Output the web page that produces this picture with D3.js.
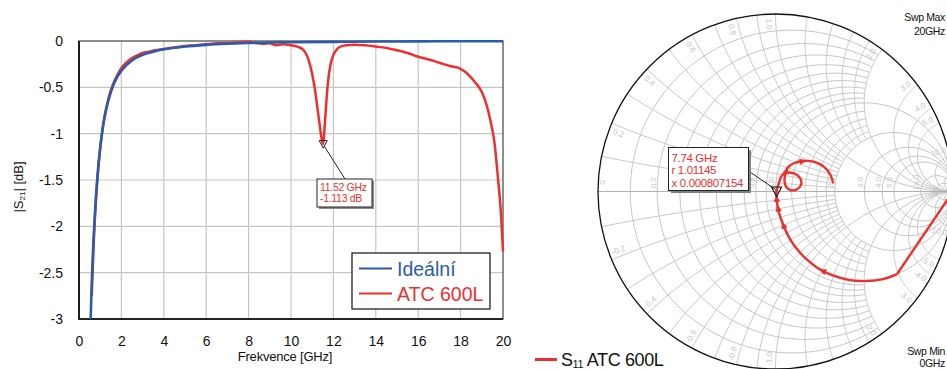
<!DOCTYPE html>
<html>
<head>
<meta charset="utf-8">
<script src="https://cdn.jsdelivr.net/npm/d3@7"></script>
<style>
  body { margin: 0; background: #fff; }
  svg { display: block; font-family: "Liberation Sans", Arial, sans-serif; }
</style>
</head>
<body>
<svg id="chart" width="947" height="369"></svg>
<script>
// ---------- data: |S21| plot ----------
const xTicks = [0, 2, 4, 6, 8, 10, 12, 14, 16, 18, 20];
const yTicks = [0, -0.5, -1, -1.5, -2, -2.5, -3];

const freqIdeal = [0.55, 0.6, 0.7, 0.8, 0.9, 1.0, 1.1, 1.2, 1.4, 1.6, 1.8, 2.0, 2.5, 3.0, 3.5, 4.0, 5.0, 6.0, 7.0, 8.0, 9.0, 10, 12, 14, 16, 18, 20];
const s21Ideal = [-3.0, -2.62, -2.08, -1.68, -1.38, -1.15, -0.97, -0.83, -0.63, -0.49, -0.39, -0.32, -0.21, -0.15, -0.115, -0.09, -0.06, -0.042, -0.03, -0.022, -0.017, -0.013, -0.009, -0.006, -0.004, -0.003, -0.002];

const freqAtc = [0.6, 0.7, 0.8, 0.9, 1.0, 1.1, 1.2, 1.4, 1.6, 1.8, 2.0, 2.2, 2.5, 2.8, 3.0, 3.3, 3.6, 4.0, 4.5, 5.0, 5.5, 6.0, 6.5, 7.0, 7.5, 8.0, 8.3, 8.7, 9.0, 9.3, 9.6, 10.0, 10.3, 10.6, 10.9, 11.1, 11.2, 11.35, 11.45, 11.52, 11.6, 11.7, 11.8, 11.9, 12.0, 12.2, 12.4, 12.6, 13.0, 13.5, 14.0, 14.5, 15.0, 15.5, 16.0, 16.5, 17.0, 17.5, 18.0, 18.4, 18.7, 19.0, 19.2, 19.4, 19.6, 19.75, 19.9, 20.0];
const s21Atc = [-2.75, -2.15, -1.72, -1.4, -1.16, -0.97, -0.82, -0.61, -0.47, -0.37, -0.29, -0.24, -0.185, -0.15, -0.13, -0.115, -0.1, -0.085, -0.07, -0.055, -0.045, -0.035, -0.025, -0.022, -0.015, -0.005, -0.02, -0.03, -0.025, -0.045, -0.035, -0.045, -0.06, -0.1, -0.26, -0.48, -0.64, -0.9, -1.06, -1.113, -0.88, -0.56, -0.34, -0.22, -0.15, -0.08, -0.055, -0.045, -0.04, -0.047, -0.06, -0.075, -0.1, -0.13, -0.17, -0.2, -0.235, -0.27, -0.3, -0.37, -0.45, -0.55, -0.67, -0.85, -1.1, -1.45, -1.85, -2.27];

const markerFreq = 11.52;
const markerDb = -1.113;
const markerLines = ['11.52 GHz', '-1.113 dB'];
const legendNames = ['Ideální', 'ATC 600L'];

// ---------- data: Smith chart (S11, reflection coefficient) ----------
const gammaRe = [1.0, 0.685, 0.6, 0.5, 0.41, 0.33, 0.26, 0.19, 0.13, 0.08, 0.045, 0.02, 0.008, 0.006, 0.019, 0.031, 0.051, 0.079, 0.113, 0.141, 0.144, 0.118, 0.085, 0.059, 0.051, 0.054, 0.066, 0.103, 0.159, 0.216, 0.272, 0.31, 0.325];
const gammaIm = [0.0, -0.465, -0.495, -0.505, -0.498, -0.476, -0.445, -0.395, -0.335, -0.265, -0.19, -0.12, -0.06, 0.0, 0.046, 0.082, 0.104, 0.107, 0.099, 0.07, 0.037, 0.011, 0.008, 0.028, 0.059, 0.093, 0.131, 0.159, 0.172, 0.168, 0.14, 0.093, 0.046];
const arrowAt = [5.9, 10.0, 11.4, 12.3, 25.6, 27.9];
const smithMarkerIdx = 13;
const smithMarkerLines = ['7.74 GHz', 'r 1.01145', 'x 0.000807154'];

const rFine = [0.1, 0.2, 0.3, 0.4, 0.5, 0.6, 0.7, 0.8, 0.9, 1.2, 1.4, 1.6, 1.8];
const rMajor = [1, 2, 3, 4, 5, 10, 20];
const xFine = [0.1, 0.2, 0.3, 0.4, 0.5, 0.6, 0.7, 0.8, 0.9, 1.2, 1.4, 1.6, 1.8];
const xMajor = [1, 2, 3, 4, 5, 10, 20];
const rLabels = [0, 0.2, 0.4, 0.6, 0.8, 1.0, 2.0, 3.0, 4.0, 5.0, 10.0];
const xLabels = [0.2, 0.4, 0.6, 0.8, 1.0, 2.0, 3.0, 4.0, 5.0, 10.0];

const RED = '#ef2f2f';
const BLUE = '#2b5cab';
const GRID = '#c6c6c6';

const svg = d3.select('#chart');

// ================= left: |S21| =================
const plot = { left: 79, right: 503, top: 41, bottom: 319 };
const x = d3.scaleLinear().domain([0, 20]).range([plot.left, plot.right]);
const y = d3.scaleLinear().domain([-3, 0]).range([plot.bottom, plot.top]);

// grid
svg.append('g').selectAll('line').data(xTicks.slice(1, -1)).join('line')
    .attr('x1', d => x(d)).attr('x2', d => x(d))
    .attr('y1', plot.top).attr('y2', plot.bottom)
    .attr('stroke', GRID).attr('stroke-width', 1.2);
svg.append('g').selectAll('line').data(yTicks.slice(1, -1)).join('line')
    .attr('x1', plot.left).attr('x2', plot.right)
    .attr('y1', d => y(d)).attr('y2', d => y(d))
    .attr('stroke', GRID).attr('stroke-width', 1.2);

// axes (labels only)
const xAxis = svg.append('g')
    .attr('transform', `translate(0,${plot.bottom})`)
    .call(d3.axisBottom(x).tickValues(xTicks).tickSize(0).tickPadding(17).tickFormat(d => String(d)));
xAxis.select('.domain').remove();
xAxis.attr('font-family', null).attr('font-size', null);
xAxis.selectAll('text').attr('font-size', 14).attr('fill', '#111');

const yAxis = svg.append('g')
    .attr('transform', `translate(${plot.left},0)`)
    .call(d3.axisLeft(y).tickValues(yTicks).tickSize(0).tickPadding(16).tickFormat(d => String(d)));
yAxis.select('.domain').remove();
yAxis.attr('font-family', null).attr('font-size', null);
yAxis.selectAll('text').attr('font-size', 14).attr('fill', '#111');

// frame
svg.append('rect')
    .attr('x', plot.left).attr('y', plot.top)
    .attr('width', plot.right - plot.left).attr('height', plot.bottom - plot.top)
    .attr('fill', 'none').attr('stroke', '#444').attr('stroke-width', 1.2);
svg.append('path')
    .attr('d', `M${plot.left},${plot.top}V${plot.bottom}H${plot.right}`)
    .attr('fill', 'none').attr('stroke', '#000').attr('stroke-width', 1.6);

// curves
svg.append('defs').append('clipPath').attr('id', 'plotClip')
    .append('rect').attr('x', plot.left).attr('y', plot.top - 3)
    .attr('width', plot.right - plot.left + 2).attr('height', plot.bottom - plot.top + 3);

const line = d3.line().x(d => x(d[0])).y(d => y(d[1])).curve(d3.curveMonotoneX);
const curves = svg.append('g').attr('clip-path', 'url(#plotClip)');
curves.append('path')
    .attr('d', line(freqAtc.map((f, i) => [f, s21Atc[i]])))
    .attr('fill', 'none').attr('stroke', RED).attr('stroke-width', 2.5);
curves.append('path')
    .attr('d', line(freqIdeal.map((f, i) => [f, s21Ideal[i]])))
    .attr('fill', 'none').attr('stroke', BLUE).attr('stroke-width', 2.6);

// marker + annotation
const mx = x(markerFreq), my = y(markerDb);
const box1 = { x: 317, y: 179, w: 55, h: 28 };
svg.append('line')
    .attr('x1', mx + 1).attr('y1', my + 2)
    .attr('x2', box1.x + 28).attr('y2', box1.y)
    .attr('stroke', '#222').attr('stroke-width', 1);
svg.append('path')
    .attr('d', `M${mx - 4},${my - 3.5}L${mx + 4},${my - 3.5}L${mx},${my + 4}Z`)
    .attr('fill', 'none').attr('stroke', '#222').attr('stroke-width', 1);
svg.append('rect')
    .attr('x', box1.x + 2).attr('y', box1.y + 2).attr('width', box1.w).attr('height', box1.h)
    .attr('fill', '#8a8a8a');
svg.append('rect')
    .attr('x', box1.x).attr('y', box1.y).attr('width', box1.w).attr('height', box1.h)
    .attr('fill', '#fff').attr('stroke', '#222').attr('stroke-width', 1);
svg.append('g').selectAll('text').data(markerLines).join('text')
    .attr('x', box1.x + 3).attr('y', (d, i) => box1.y + 12 + i * 11)
    .attr('font-size', 10.5).attr('letter-spacing', -0.3).attr('fill', RED)
    .text(d => d);

// legend
const lg = svg.append('g');
lg.append('rect').attr('x', 352).attr('y', 253).attr('width', 138).attr('height', 56)
    .attr('fill', '#fff').attr('stroke', '#222').attr('stroke-width', 1.3);
[BLUE, RED].forEach((c, i) => {
    const ly = 268.5 + i * 25;
    lg.append('line').attr('x1', 359).attr('x2', 392).attr('y1', ly).attr('y2', ly)
        .attr('stroke', c).attr('stroke-width', 2.2);
    lg.append('text').attr('x', 397).attr('y', ly + 7)
        .attr('font-size', 19.5).attr('fill', c).text(legendNames[i]);
});

// axis titles
svg.append('text')
    .attr('x', 285).attr('y', 361).attr('text-anchor', 'middle')
    .attr('font-size', 13).attr('letter-spacing', -0.2).attr('fill', '#111')
    .text('Frekvence [GHz]');
const yt = svg.append('text')
    .attr('transform', 'translate(23,187) rotate(-90)')
    .attr('text-anchor', 'middle').attr('font-size', 13).attr('fill', '#111');
yt.append('tspan').text('|S');
yt.append('tspan').attr('font-size', 8).attr('dy', 2).text('21');
yt.append('tspan').attr('dy', -2).text('| [dB]');

// ================= right: Smith chart =================
const cx = 775.5, cy = 191.5, R = 177.5;
const gx = d3.scaleLinear().domain([-1, 1]).range([cx - R, cx + R]);
const gy = d3.scaleLinear().domain([-1, 1]).range([cy + R, cy - R]);

function z2g(r, xx) {
    const a = r - 1, c = r + 1, den = c * c + xx * xx;
    return [(a * c + xx * xx) / den, (xx * c - a * xx) / den];
}
const gline = d3.line().x(d => gx(d[0])).y(d => gy(d[1]));

svg.select('defs').append('clipPath').attr('id', 'smithClip')
    .append('circle').attr('cx', cx).attr('cy', cy).attr('r', R);

const grid = svg.append('g').attr('clip-path', 'url(#smithClip)')
    .attr('fill', 'none').attr('stroke', GRID).attr('stroke-width', 1);

// constant-resistance circles, partial
rFine.forEach(r => {
    const tm = Math.atan(2);
    const pts = d3.range(0, 121).map(k => {
        const t = -tm + 2 * tm * k / 120;
        return z2g(r, Math.tan(t));
    });
    grid.append('path').attr('d', gline(pts));
});
// constant-resistance circles, full
rMajor.forEach(r => {
    grid.append('circle')
        .attr('cx', gx(r / (r + 1))).attr('cy', cy)
        .attr('r', gx(1 / (r + 1)) - gx(0));
});
// constant-reactance arcs
function xArc(xx, rmax) {
    const tm = Math.min(Math.atan(rmax), Math.PI / 2 - 1e-4);
    const pts = d3.range(0, 121).map(k => z2g(Math.tan(tm * k / 120), xx));
    grid.append('path').attr('d', gline(pts));
}
xFine.forEach(xx => { xArc(xx, 2); xArc(-xx, 2); });
xMajor.forEach(xx => { xArc(xx, Infinity); xArc(-xx, Infinity); });

// real axis
svg.append('line')
    .attr('x1', cx - R).attr('x2', cx + R).attr('y1', cy).attr('y2', cy)
    .attr('stroke', '#b0b0b0').attr('stroke-width', 1);

// labels
const lab = svg.append('g').attr('fill', '#c4c4c4').attr('font-size', 8);
rLabels.forEach(r => {
    const px = gx(z2g(r, 0)[0]) + (r === 0 ? 7 : -1.5);
    lab.append('text')
        .attr('transform', `translate(${px},${cy - 9}) rotate(-90)`)
        .attr('text-anchor', 'middle')
        .text(r === 0 ? '0' : r.toFixed(1));
});
xLabels.forEach(v => {
    [v, -v].forEach(xx => {
        const g = z2g(0, xx);
        let th = Math.atan2(g[1], g[0]);
        th += (xx > 0 ? 1 : -1) * 2.2 * Math.PI / 180;
        const rr = R - 10;
        const px = cx + rr * Math.cos(th), py = cy - rr * Math.sin(th);
        let rot = -th * 180 / Math.PI;
        if (rot > 90) rot -= 180;
        if (rot <= -90 && Math.abs(th) > Math.PI / 2 + 0.01) rot += 180;
        lab.append('text')
            .attr('transform', `translate(${px},${py}) rotate(${rot})`)
            .attr('text-anchor', 'middle').attr('dy', '0.35em')
            .text(xx.toFixed(1));
    });
});

// outer circle
svg.append('circle').attr('cx', cx).attr('cy', cy).attr('r', R)
    .attr('fill', 'none').attr('stroke', '#111').attr('stroke-width', 1.3);

// S11 trace
const trace = gammaRe.map((g, i) => [g, gammaIm[i]]);
svg.append('path').attr('d', gline(trace.slice(0, 2)))
    .attr('fill', 'none').attr('stroke', RED).attr('stroke-width', 2.4);
svg.append('path').attr('d', gline.curve(d3.curveCatmullRom)(trace.slice(1)))
    .attr('fill', 'none').attr('stroke', RED).attr('stroke-width', 2.4)
    .attr('stroke-linejoin', 'round');
gline.curve(d3.curveLinear);

// direction arrows
arrowAt.forEach(p => {
    const i = Math.floor(p), f = p - i;
    const a = trace[i], b = trace[i + 1];
    const px = gx(a[0] + (b[0] - a[0]) * f), py = gy(a[1] + (b[1] - a[1]) * f);
    const ang = Math.atan2(gy(b[1]) - gy(a[1]), gx(b[0]) - gx(a[0])) * 180 / Math.PI;
    svg.append('path')
        .attr('d', 'M4,0L-3,-3.2L-3,3.2Z')
        .attr('transform', `translate(${px},${py}) rotate(${ang})`)
        .attr('fill', RED);
});

// Smith marker + annotation
const smx = gx(trace[smithMarkerIdx][0]), smy = gy(trace[smithMarkerIdx][1]);
const box2 = { x: 668.5, y: 147.5, w: 80, h: 43 };
svg.append('line')
    .attr('x1', box2.x + box2.w).attr('y1', 171)
    .attr('x2', smx - 1).attr('y2', smy - 2)
    .attr('stroke', '#222').attr('stroke-width', 1);
svg.append('path')
    .attr('d', `M${smx - 5},${smy - 4.5}L${smx + 5},${smy - 4.5}L${smx},${smy + 5}Z`)
    .attr('fill', 'none').attr('stroke', '#111').attr('stroke-width', 1.1);
svg.append('rect')
    .attr('x', box2.x + 2.5).attr('y', box2.y + 2.5).attr('width', box2.w).attr('height', box2.h)
    .attr('fill', '#808080');
svg.append('rect')
    .attr('x', box2.x).attr('y', box2.y).attr('width', box2.w).attr('height', box2.h)
    .attr('fill', '#fff').attr('stroke', '#222').attr('stroke-width', 1);
svg.append('g').selectAll('text').data(smithMarkerLines).join('text')
    .attr('x', box2.x + 3).attr('y', (d, i) => box2.y + 14 + i * 12.5)
    .attr('font-size', 11.5).attr('letter-spacing', -0.35).attr('fill', RED)
    .text(d => d);

// sweep labels (kept inside the page edge)
const sw = svg.append('g').attr('font-size', 10.5).attr('letter-spacing', -0.35)
    .attr('fill', '#111').attr('text-anchor', 'end');
sw.append('text').attr('x', 945).attr('y', 21).text('Swp Max');
sw.append('text').attr('x', 945).attr('y', 35).text('20GHz');
sw.append('text').attr('x', 945).attr('y', 355).text('Swp Min');
sw.append('text').attr('x', 945).attr('y', 367).text('0GHz');

// Smith legend
svg.append('line').attr('x1', 535).attr('x2', 557).attr('y1', 359.5).attr('y2', 359.5)
    .attr('stroke', RED).attr('stroke-width', 3);
const st = svg.append('text').attr('x', 561).attr('y', 366)
    .attr('font-size', 18).attr('letter-spacing', -0.4).attr('fill', '#111');
st.append('tspan').text('S');
st.append('tspan').attr('font-size', 11).attr('dy', 2).text('11');
st.append('tspan').attr('dy', -2).text(' ATC 600L');
</script>
</body>
</html>
